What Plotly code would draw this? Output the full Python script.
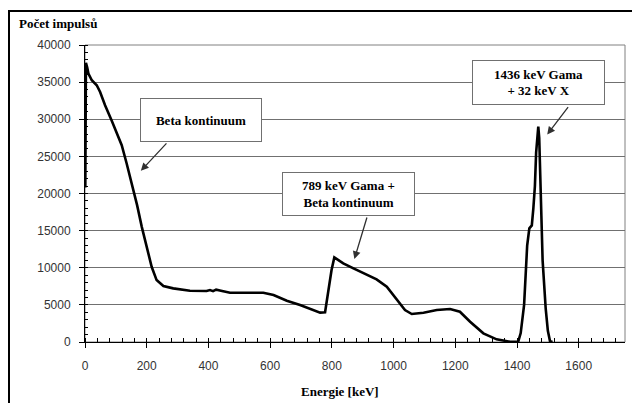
import plotly.graph_objects as go

# Gamma spectrum: energy [keV] vs. pulse count
energy_kev = [1, 3, 7, 11, 22, 38, 49, 65, 86, 103, 119, 135, 146, 157, 169, 184,
              200, 216, 232, 254, 286, 340, 394, 405, 415, 425, 437, 470, 524, 578,
              611, 654, 697, 730, 762, 778, 788, 799, 808, 837, 870, 913, 945, 978,
              1010, 1037, 1059, 1097, 1140, 1183, 1215, 1248, 1291, 1334, 1377, 1404,
              1412, 1418, 1423, 1428, 1433, 1440, 1448, 1453, 1458, 1462, 1466, 1469,
              1472, 1475, 1479, 1483, 1488, 1493, 1500, 1507, 1515]
counts = [20800, 37600, 37000, 36150, 35250, 34580, 33680, 31890, 29870, 28080, 26500,
          24040, 22240, 20300, 18400, 15510, 12820, 10130, 8340, 7530, 7220, 6900, 6860,
          7000, 6850, 7050, 6950, 6630, 6630, 6630, 6320, 5560, 4980, 4450, 3950, 4000,
          7000, 9690, 11390, 10590, 9910, 9010, 8430, 7440, 5650, 4300, 3770, 3950, 4300,
          4440, 4080, 2730, 1170, 360, 40, 50, 1200, 3500, 5000, 9000, 13000, 15300,
          15700, 18000, 21000, 25500, 28500, 29000, 27500, 24000, 17000, 11000, 7000,
          4500, 1500, 100, 0]

x_ticks = [0, 200, 400, 600, 800, 1000, 1200, 1400, 1600]
y_ticks = [0, 5000, 10000, 15000, 20000, 25000, 30000, 35000, 40000]

# Callouts: (label, box centre x, box centre y, arrow head x, arrow head y)
callouts = [
    ("Beta kontinuum", 377, 29900, 181, 23050),
    ("789 keV Gama +<br>Beta kontinuum", 855, 19930, 873, 11170),
    ("1436 keV Gama<br>+ 32 keV X", 1471, 34910, 1498, 27940),
]
arrow_offsets = [(27, -29), (13, -43), (22, -29)]
box_sizes = [(118, 40), (129, 40), (129, 41)]

serif = "'Liberation Serif', 'Times New Roman', 'DejaVu Serif', serif"
sans = "'Liberation Sans', Arial, sans-serif"

fig = go.Figure()
fig.add_trace(go.Scatter(
    x=energy_kev, y=counts, mode="lines",
    line=dict(color="black", width=2.6),
    hoverinfo="skip", showlegend=False,
))

fig.update_layout(
    width=632, height=403,
    margin=dict(l=85, r=7, t=45, b=61),
    paper_bgcolor="white", plot_bgcolor="white",
    showlegend=False,
    xaxis=dict(
        range=[0, 1750], tickvals=x_ticks, ticktext=[str(v) for v in x_ticks],
        showgrid=False, zeroline=False,
        showline=True, linecolor="black", linewidth=1,
        ticks="outside", ticklen=5, tickcolor="black", tickwidth=1,
        minor=dict(dtick=40, tick0=0, ticks="inside", ticklen=4,
                   tickcolor="black", tickwidth=1, showgrid=False),
        tickfont=dict(family=sans, size=12, color="#333333"),
        ticklabelstandoff=8,
    ),
    yaxis=dict(
        range=[0, 40000], tickvals=y_ticks, ticktext=[str(v) for v in y_ticks],
        showgrid=True, gridcolor="#707070", gridwidth=1.2, zeroline=False,
        showline=True, linecolor="black", linewidth=1,
        ticks="outside", ticklen=5, tickcolor="black", tickwidth=1,
        minor=dict(dtick=1000, tick0=0, ticks="inside", ticklen=3,
                   tickcolor="black", tickwidth=1, showgrid=False),
        tickfont=dict(family=sans, size=12, color="#333333"),
        ticklabelstandoff=6,
    ),
)

# Plot-area frame (grey) and outer chart frame (black)
fig.add_shape(type="rect", xref="paper", yref="paper", x0=0, x1=1, y0=0, y1=1,
              line=dict(color="#808080", width=1), layer="below")
fig.add_shape(type="rect", xref="paper", yref="paper",
              x0=(9 - 85) / 540, x1=(645 - 85) / 540,
              y0=(342 - 420) / 297, y1=(342 - 11) / 297,
              line=dict(color="black", width=2))

# Axis titles
fig.add_annotation(text="<b>Počet impulsů</b>", xref="paper", yref="paper",
                   x=(17 - 85) / 540, y=(342 - 24) / 297, xanchor="left", yanchor="middle",
                   showarrow=False, font=dict(family=serif, size=13, color="black"))
fig.add_annotation(text="<b>Energie [keV]</b>", xref="paper", yref="paper",
                   x=(340 - 85) / 540, y=(342 - 391) / 297, xanchor="center", yanchor="middle",
                   showarrow=False, font=dict(family=serif, size=13, color="black"))

# Callout boxes and their arrows
for (label, bx, by, hx, hy), (ax, ay), (w, h) in zip(callouts, arrow_offsets, box_sizes):
    fig.add_annotation(text="<b>" + label + "</b>", x=bx, y=by, xref="x", yref="y",
                       showarrow=False, width=w, height=h, align="center",
                       bgcolor="white", bordercolor="#707070", borderwidth=1, borderpad=1,
                       font=dict(family=serif, size=13, color="black"))
    fig.add_annotation(text="", x=hx, y=hy, xref="x", yref="y",
                       showarrow=True, ax=ax, ay=ay, arrowhead=2, arrowsize=1.2,
                       arrowwidth=1.3, arrowcolor="#303030", standoff=0, startstandoff=0)

fig.write_html("out.html")
